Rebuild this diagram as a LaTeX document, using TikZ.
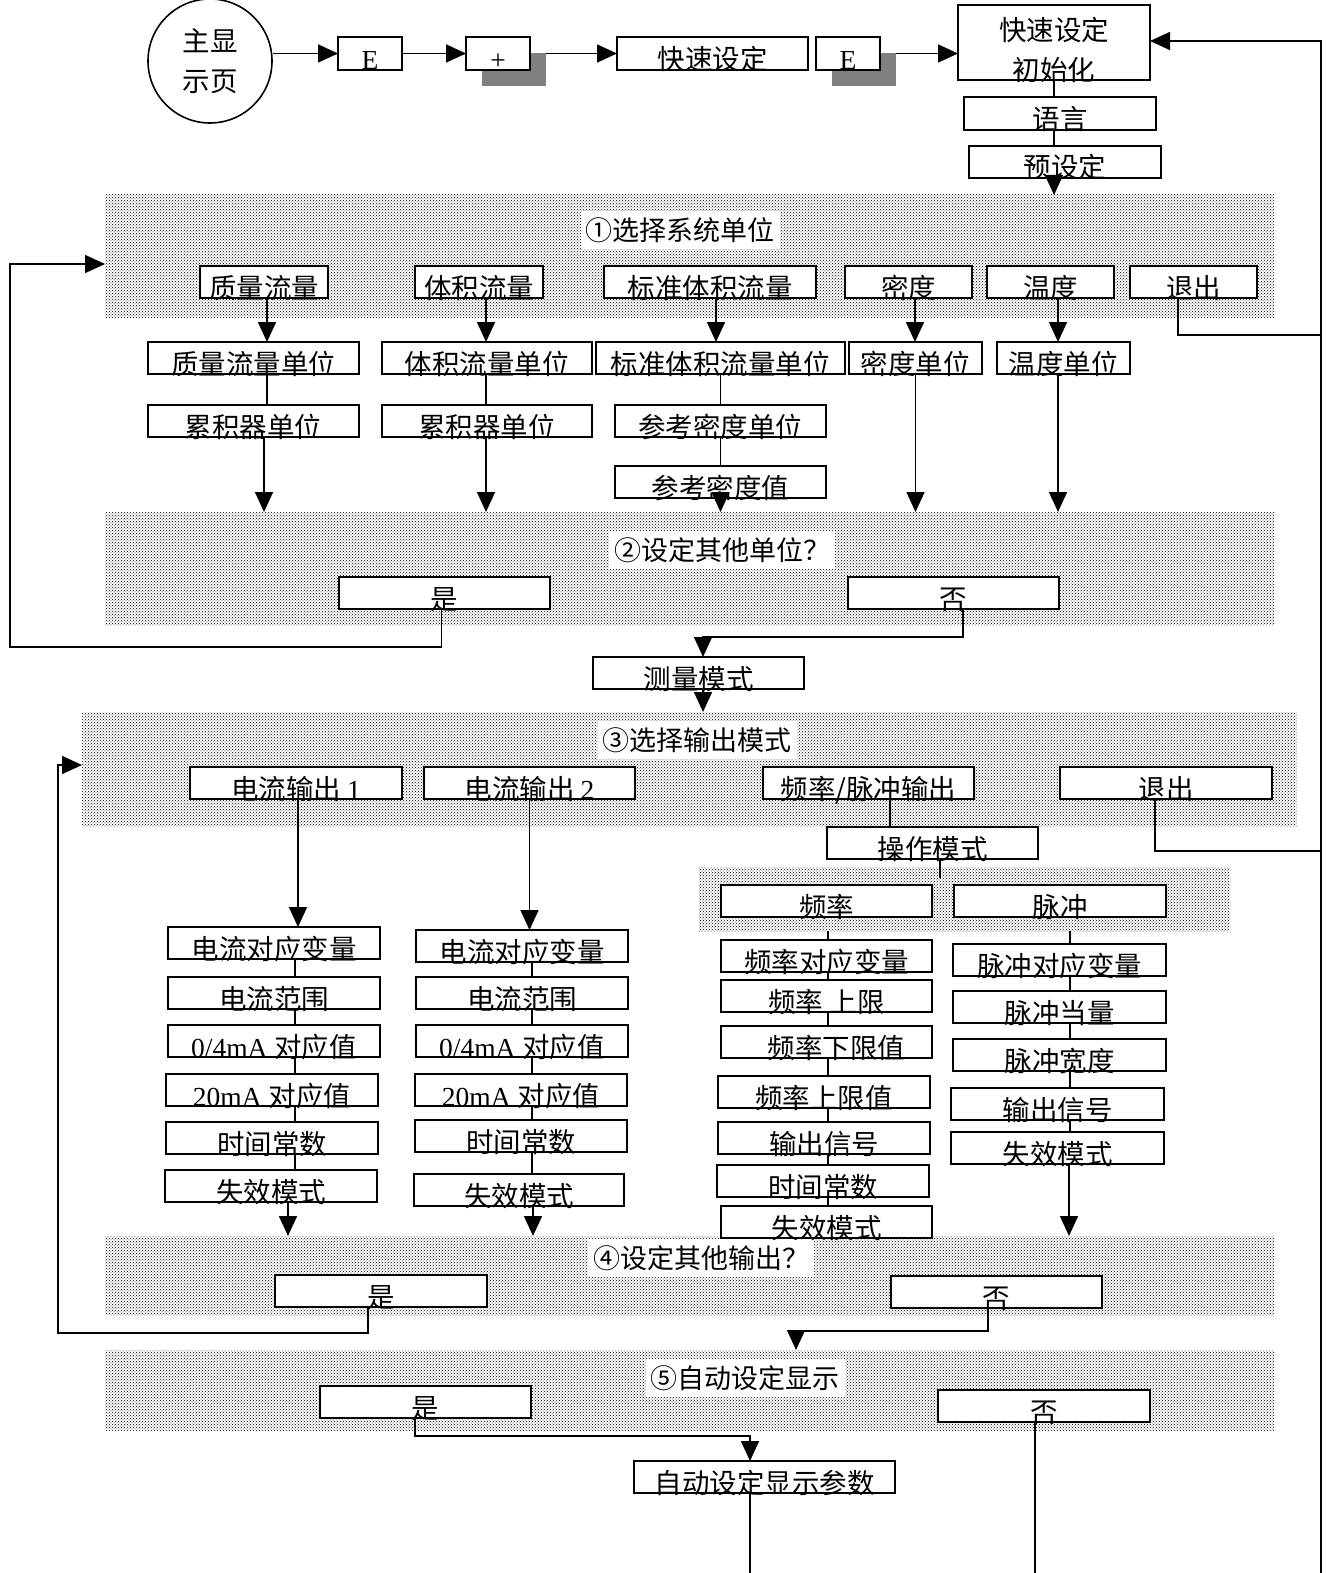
\documentclass[tikz,border=0pt]{standalone}
\usepackage{fontspec}
\setmainfont{Noto Sans CJK SC}
\newfontfamily\lat{Liberation Serif}
\usetikzlibrary{arrows.meta,patterns}
\newcommand\lo[1]{\raisebox{-16pt}[0pt][0pt]{#1}}
\begin{document}
\begin{tikzpicture}[x=1pt,y=-1pt,
  bx/.style={draw,fill=white,line width=1.6pt,minimum height=32pt,inner sep=0pt,outer sep=0pt,font=\fontsize{27.5}{30}\selectfont},
  reg/.style={pattern=crosshatch dots,pattern color=black,inner sep=0pt,outer sep=0pt},
  ttl/.style={fill=white,inner xsep=5pt,inner ysep=6pt,font=\fontsize{27}{30}\selectfont},
  shd/.style={fill=gray,inner sep=0pt,outer sep=0pt},
  ln/.style={line width=1.6pt},
  arr/.style={line width=1.6pt,-{Triangle[length=20pt,width=18pt]}}]
\fill[white] (0,0) rectangle (1335,1573);
\useasboundingbox (0,0) rectangle (1335,1573);

% shaded regions
\node[reg,minimum width=1169pt,minimum height=122pt] (r1) at (689.5,256) {};
\node[reg,minimum width=1169pt,minimum height=113pt] (r2) at (689.5,568.5) {};
\node[reg,minimum width=1215pt,minimum height=114pt] (r3) at (689.5,769) {};
\node[reg,minimum width=531pt,minimum height=64pt] (r3b) at (964.5,899) {};
\node[reg,minimum width=1169pt,minimum height=79pt] (r4) at (689.5,1275.5) {};
\node[reg,minimum width=1169pt,minimum height=80pt] (r5) at (689.5,1390) {};

% titles
\node[ttl] (t1) at (680,230) {①选择系统单位};
\node[ttl] (t2) at (722,550) {②设定其他单位？};
\node[ttl] (t3) at (697,740) {③选择输出模式};
\node[ttl] (t4) at (701,1258) {④设定其他输出？};
\node[ttl] (t5) at (745,1378) {⑤自动设定显示};

% top row
\node[shd,minimum width=64pt,minimum height=33pt] (Ps) at (514,69.5) {};
\node[shd,minimum width=64pt,minimum height=33pt] (E2s) at (864,69.5) {};
\node[draw,circle,line width=1.6pt,minimum size=124pt,inner sep=0pt,align=center,font=\fontsize{27.5}{40}\selectfont] (main) at (210,61) {主显\\示页};
\node[bx,minimum width=64pt,minimum height=33pt] (E1) at (370,53.5) {\lo{\lat E}};
\node[bx,minimum width=64pt,minimum height=33pt] (P) at (498,53.5) {\lo{\lat +}};
\node[bx,minimum width=191pt,minimum height=33pt] (QS) at (712.5,53.5) {\lo{快速设定}};
\node[bx,minimum width=64pt,minimum height=33pt] (E2) at (848,53.5) {\lo{\lat E}};
\node[bx,minimum width=192pt,minimum height=75pt] (init) at (1054,42.5) {};
\node[align=center,font=\fontsize{27.5}{40}\selectfont] (initT) at (1054,49.5) {快速设定\\初始化};
\node[bx,minimum width=192pt,minimum height=33pt] (lang) at (1060,113.5) {\lo{语言}};
\node[bx,minimum width=192pt] (pre) at (1065,162) {\lo{预设定}};

% region 1 row
\node[bx,minimum width=128pt] (mf) at (264,282) {\lo{质量流量}};
\node[bx,minimum width=128pt] (vf) at (479,282) {\lo{体积流量}};
\node[bx,minimum width=212pt] (sf) at (710,282) {\lo{标准体积流量}};
\node[bx,minimum width=127pt] (de) at (908.5,282) {\lo{密度}};
\node[bx,minimum width=127pt] (te) at (1050.5,282) {\lo{温度}};
\node[bx,minimum width=127pt] (ex1) at (1193.5,282) {\lo{退出}};

\node[bx,minimum width=211pt] (mfu) at (253.5,358) {\lo{质量流量单位}};
\node[bx,minimum width=210pt] (vfu) at (487,358) {\lo{体积流量单位}};
\node[bx,minimum width=249pt] (sfu) at (720.5,358) {\lo{标准体积流量单位}};
\node[bx,minimum width=133pt] (deu) at (915.5,358) {\lo{密度单位}};
\node[bx,minimum width=133pt] (teu) at (1063.5,358) {\lo{温度单位}};

\node[bx,minimum width=211pt] (acc1) at (253.5,421) {\lo{累积器单位}};
\node[bx,minimum width=210pt] (acc2) at (487,421) {\lo{累积器单位}};
\node[bx,minimum width=211pt] (rdu) at (720.5,421) {\lo{参考密度单位}};
\node[bx,minimum width=211pt] (rdv) at (720.5,482) {\lo{参考密度值}};

% region 2
\node[bx,minimum width=211pt] (yes2) at (444.5,593) {\lo{是}};
\node[bx,minimum width=211pt] (no2) at (953.5,593) {\lo{否}};
\node[bx,minimum width=211pt] (meas) at (698.5,673) {\lo{测量模式}};

% region 3
\node[bx,minimum width=212pt] (co1) at (296,783) {\lo{电流输出 {\lat 1}}};
\node[bx,minimum width=211pt] (co2) at (529.5,783) {\lo{电流输出 {\lat 2}}};
\node[bx,minimum width=211pt] (fp) at (868.5,783) {\lo{频率/脉冲输出}};
\node[bx,minimum width=212pt] (ex3) at (1166,783) {\lo{退出}};
\node[bx,minimum width=211pt] (opm) at (932.5,843) {\lo{操作模式}};
\node[bx,minimum width=211pt] (freq) at (826.5,901) {\lo{频率}};
\node[bx,minimum width=212pt] (pulse) at (1060,901) {\lo{脉冲}};

% current output 1
\node[bx,minimum width=212pt] (c1a) at (274,943) {\lo{电流对应变量}};
\node[bx,minimum width=212pt] (c1b) at (274,993) {\lo{电流范围}};
\node[bx,minimum width=212pt] (c1c) at (274,1041) {\lo{{\lat 0/4mA }对应值}};
\node[bx,minimum width=212pt] (c1d) at (272,1090) {\lo{{\lat 20mA }对应值}};
\node[bx,minimum width=212pt] (c1e) at (272,1138) {\lo{时间常数}};
\node[bx,minimum width=212pt] (c1f) at (271,1186) {\lo{失效模式}};
% current output 2
\node[bx,minimum width=212pt] (c2a) at (522,946) {\lo{电流对应变量}};
\node[bx,minimum width=212pt] (c2b) at (522,993) {\lo{电流范围}};
\node[bx,minimum width=212pt] (c2c) at (522,1041) {\lo{{\lat 0/4mA }对应值}};
\node[bx,minimum width=212pt] (c2d) at (521,1090) {\lo{{\lat 20mA }对应值}};
\node[bx,minimum width=212pt] (c2e) at (521,1136) {\lo{时间常数}};
\node[bx,minimum width=210pt] (c2f) at (519,1190) {\lo{失效模式}};
% frequency
\node[bx,minimum width=211pt] (f1) at (826.5,956) {\lo{频率对应变量}};
\node[bx,minimum width=211pt] (f2) at (826.5,996) {\lo{频率 上限}};
\node[bx,minimum width=211pt] (f3) at (826.5,1042) {\lo{\hspace{20pt}频率下限值}};
\node[bx,minimum width=212pt] (f4) at (824,1092) {\lo{频率上限值}};
\node[bx,minimum width=212pt] (f5) at (824,1138) {\lo{输出信号}};
\node[bx,minimum width=212pt] (f6) at (823,1181) {\lo{时间常数}};
\node[bx,minimum width=211pt] (f7) at (826.5,1222) {\lo{失效模式}};
% pulse
\node[bx,minimum width=213pt] (p1) at (1059.5,960) {\lo{脉冲对应变量}};
\node[bx,minimum width=213pt] (p2) at (1059.5,1007) {\lo{脉冲当量}};
\node[bx,minimum width=213pt] (p3) at (1059.5,1055) {\lo{脉冲宽度}};
\node[bx,minimum width=213pt] (p4) at (1057.5,1104) {\lo{输出信号}};
\node[bx,minimum width=213pt] (p5) at (1057.5,1148) {\lo{失效模式}};

% region 4, 5
\node[bx,minimum width=212pt] (yes4) at (381,1291) {\lo{是}};
\node[bx,minimum width=211pt] (no4) at (996.5,1292) {\lo{否}};
\node[bx,minimum width=211pt] (yes5) at (425.5,1402) {\lo{是}};
\node[bx,minimum width=212pt] (no5) at (1044,1406) {\lo{否}};
\node[bx,minimum width=261pt] (adp) at (764.5,1477) {\lo{自动设定显示参数}};

% helper coordinates
\coordinate (X1) at (295,0);
\coordinate (X2) at (532,0);
\coordinate (XF) at (828,0);
\coordinate (XP) at (1070,0);
\coordinate (Rt) at (1321,41);
\coordinate (Rb) at (1321,1573);
\coordinate (R1) at (1321,335);
\coordinate (R3) at (1321,851);
\coordinate (c1) at (10,647);
\coordinate (c2) at (703,637);
\coordinate (c4) at (58,1333);
\coordinate (c5) at (796,1331);
\coordinate (c6) at (750,1436);
\coordinate (c7) at (750,1573);
\coordinate (c8) at (1035,1573);
\coordinate (oe) at (940,878);

% top connectors
\draw[arr] (main.east |- E1.west) -- (E1.west);
\draw[arr] (E1.east) -- (P.west);
\draw[arr] (Ps.east |- P.east) -- (QS.west);
\draw[arr] (E2s.east |- E2.east) -- (init.west |- E2.east);
\draw[ln] (init.south) -- (init.south |- lang.north);
\draw[ln] (init.south |- lang.south) -- (init.south |- pre.north);
\draw[arr] (init.south |- pre.south) -- (init.south |- r1.north);
\draw[arr] (Rb) -- (Rt) -- (init.east |- Rt);
\draw[ln] ([xshift=-15.5pt]ex1.south) |- (R1);
\draw[ln] ([xshift=-11pt]ex3.south) |- (R3);

% region 1 arrows
\draw[arr] ([xshift=3pt]mf.south) -- ([xshift=3pt]mf.south |- mfu.north);
\draw[arr] ([xshift=7pt]vf.south) -- ([xshift=7pt]vf.south |- vfu.north);
\draw[arr] ([xshift=6pt]sf.south) -- ([xshift=6pt]sf.south |- sfu.north);
\draw[arr] ([xshift=6.5pt]de.south) -- ([xshift=6.5pt]de.south |- deu.north);
\draw[arr] ([xshift=7.5pt]te.south) -- ([xshift=7.5pt]te.south |- teu.north);
\draw[ln] ([xshift=13.5pt]mfu.south) -- ([xshift=13.5pt]mfu.south |- acc1.north);
\draw[arr] ([xshift=10.5pt]acc1.south) -- ([xshift=10.5pt]acc1.south |- r2.north);
\draw[ln] ([xshift=-1pt]vfu.south) -- ([xshift=-1pt]vfu.south |- acc2.north);
\draw[arr] ([xshift=-1pt]acc2.south) -- ([xshift=-1pt]acc2.south |- r2.north);
\draw[ln] (sfu.south) -- (sfu.south |- rdu.north);
\draw[ln] (rdu.south) -- (rdu.south |- rdv.north);
\draw[arr] (rdv.south) -- (rdv.south |- r2.north);
\draw[arr] (deu.south) -- (deu.south |- r2.north);
\draw[arr] ([xshift=-5.5pt]teu.south) -- ([xshift=-5.5pt]teu.south |- r2.north);

% region 2 exits
\draw[arr] ([xshift=-3pt]yes2.south) |- (c1) |- ([yshift=-8pt]r1.west);
\draw[arr] ([xshift=9.5pt]no2.south) |- (c2) -- (c2 |- meas.north);
\draw[arr] (c2 |- meas.south) -- (c2 |- r3.north);

% region 3
\draw[arr] ([xshift=2pt]co1.south) -- ([xshift=2pt]co1.south |- c1a.north);
\draw[arr] (co2.south) -- (co2.south |- c2a.north);
\draw[ln] ([xshift=21.5pt]fp.south) -- ([xshift=21.5pt]fp.south |- opm.north);
\draw[ln] (opm.south -| oe) -- (oe);
\foreach \a/\b in {c1a/c1b,c1b/c1c,c1c/c1d,c1d/c1e,c1e/c1f}
  \draw[ln] (\a.south -| X1) -- (\b.north -| X1);
\foreach \a/\b in {c2a/c2b,c2b/c2c,c2c/c2d,c2d/c2e,c2e/c2f}
  \draw[ln] (\a.south -| X2) -- (\b.north -| X2);
\draw[ln] (r3b.south -| XF) -- (f1.north -| XF);
\foreach \a/\b in {f1/f2,f2/f3,f3/f4,f4/f5,f5/f6,f6/f7}
  \draw[ln] (\a.south -| XF) -- (\b.north -| XF);
\draw[ln] (r3b.south -| XP) -- (p1.north -| XP);
\foreach \a/\b in {p1/p2,p2/p3,p3/p4,p4/p5}
  \draw[ln] (\a.south -| XP) -- (\b.north -| XP);
\draw[arr] ([xshift=17pt]c1f.south) -- ([xshift=17pt]c1f.south |- r4.north);
\draw[arr] ([xshift=14pt]c2f.south) -- ([xshift=14pt]c2f.south |- r4.north);
\draw[arr] ([xshift=11.5pt]p5.south) -- ([xshift=11.5pt]p5.south |- r4.north);

% region 4, 5 exits
\draw[arr] ([xshift=-13pt]yes4.south) |- (c4) |- ([yshift=4pt]r3.west);
\draw[arr] ([xshift=-8.5pt]no4.south) |- (c5) -- (c5 |- r5.north);
\draw[arr] ([xshift=-10.5pt]yes5.south) |- (c6) -- (c6 |- adp.north);
\draw[ln] (c6 |- adp.south) -- (c7);
\draw[ln] ([xshift=-9pt]no5.south) -- (c8);
\end{tikzpicture}
\end{document}
